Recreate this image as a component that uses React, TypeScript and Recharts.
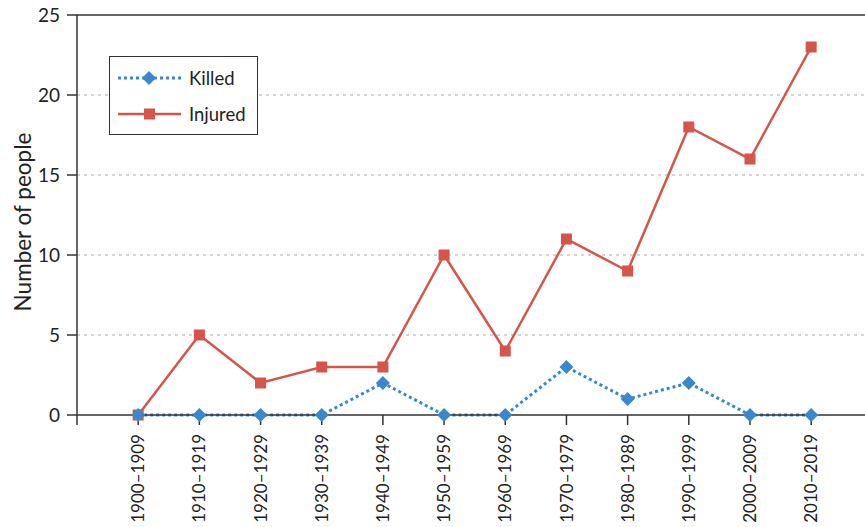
import React from 'react';
import {
  LineChart,
  Line,
  XAxis,
  YAxis,
  CartesianGrid,
  ReferenceLine,
} from 'recharts';

const decades = [
  '1900–1909', '1910–1919', '1920–1929', '1930–1939', '1940–1949', '1950–1959',
  '1960–1969', '1970–1979', '1980–1989', '1990–1999', '2000–2009', '2010–2019',
];
const killed = [0, 0, 0, 0, 2, 0, 0, 3, 1, 2, 0, 0];
const injured = [0, 5, 2, 3, 3, 10, 4, 11, 9, 18, 16, 23];
const yTicks = [0, 5, 10, 15, 20, 25];

const data = decades.map((d, i) => ({ idx: i, decade: d, killed: killed[i], injured: injured[i] }));

const BLUE = '#3a88cb';
const RED = '#d6554b';
const AXIS = '#333';
const FONT = 'Lato, "Noto Sans", sans-serif';

function Diamond({ cx, cy }: { cx?: number; cy?: number }) {
  if (cx == null || cy == null) return null;
  const r = 7;
  return <path d={`M${cx},${cy - r}L${cx + r},${cy}L${cx},${cy + r}L${cx - r},${cy}Z`} fill={BLUE} />;
}

function Square({ cx, cy }: { cx?: number; cy?: number }) {
  if (cx == null || cy == null) return null;
  const s = 11;
  return <rect x={cx - s / 2} y={cy - s / 2} width={s} height={s} fill={RED} />;
}

function XTick({ x, y, payload }: { x?: number; y?: number; payload?: { value: number } }) {
  const v = payload?.value ?? -1;
  if (v < 0) return null;
  const ty = (y ?? 0) + 7;
  return (
    <text
      x={x}
      y={ty}
      transform={`rotate(-90, ${x}, ${ty})`}
      textAnchor="end"
      dy="0.36em"
      fontSize={17}
      fill="#222"
      fontFamily={FONT}
    >
      {decades[v]}
    </text>
  );
}

function YLabel() {
  const x = 23;
  const y = 222;
  return (
    <text
      x={x}
      y={y}
      transform={`rotate(-90, ${x}, ${y})`}
      textAnchor="middle"
      dy="0.36em"
      fontSize={22.5}
      fill="#222"
      fontFamily={FONT}
    >
      Number of people
    </text>
  );
}

function LegendBox() {
  return (
    <div
      style={{
        position: 'absolute',
        left: 109,
        top: 56,
        border: '1.5px solid #333',
        width: 149,
        height: 79,
        background: '#fff',
        boxSizing: 'border-box',
      }}
    >
      <svg width={146} height={76} style={{ display: 'block' }}>
        <line x1={8} y1={21} x2={71} y2={21} stroke={BLUE} strokeWidth={3} strokeDasharray="3 3" />
        <path d="M39,14L46,21L39,28L32,21Z" fill={BLUE} />
        <text x={79} y={21} dy="0.36em" fontSize={18.5} fill="#222" fontFamily={FONT}>Killed</text>
        <line x1={8} y1={57} x2={71} y2={57} stroke={RED} strokeWidth={2.5} />
        <rect x={34} y={51.5} width={11} height={11} fill={RED} />
        <text x={79} y={57} dy="0.36em" fontSize={18.5} fill="#222" fontFamily={FONT}>Injured</text>
      </svg>
    </div>
  );
}

export default function App() {
  return (
    <div style={{ position: 'absolute', left: 0, top: 0, width: 865, height: 527, background: '#fff' }}>
      <LineChart width={865} height={527} data={data} margin={{ top: 15, right: 0, bottom: 0, left: 0 }}>
        <CartesianGrid
          vertical={false}
          horizontalValues={[5, 10, 15, 20]}
          stroke="#aaa"
          strokeDasharray="3 4"
        />
        <XAxis
          dataKey="idx"
          type="number"
          domain={[-1, 11.88]}
          ticks={[-1, 0, 1, 2, 3, 4, 5, 6, 7, 8, 9, 10, 11]}
          interval={0}
          height={112}
          tickSize={10}
          stroke={AXIS}
          strokeWidth={1.5}
          tick={<XTick />}
          allowDataOverflow
        />
        <YAxis
          type="number"
          domain={[0, 25]}
          ticks={yTicks}
          width={77}
          tickSize={10}
          tickMargin={7}
          stroke={AXIS}
          strokeWidth={1.5}
          tick={{ fill: '#222', fontSize: 19, fontFamily: FONT }}
          label={<YLabel />}
        />
        <ReferenceLine y={25} stroke={AXIS} strokeWidth={1.5} />
        <Line
          dataKey="injured"
          stroke={RED}
          strokeWidth={2.5}
          dot={<Square />}
          activeDot={false}
          isAnimationActive={false}
        />
        <Line
          dataKey="killed"
          stroke={BLUE}
          strokeWidth={3}
          strokeDasharray="3 3"
          dot={<Diamond />}
          activeDot={false}
          isAnimationActive={false}
        />
      </LineChart>
      <LegendBox />
    </div>
  );
}
